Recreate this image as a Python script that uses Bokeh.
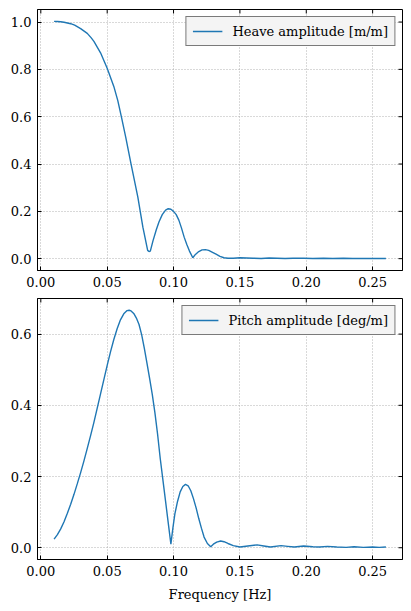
import math
from bokeh.plotting import figure
from bokeh.layouts import column
from bokeh.models import Range1d, FixedTicker, NumeralTickFormatter, Legend
from bokeh.embed import file_html
from bokeh.resources import INLINE

# ---- data ----
heave_freq = [0.010, 0.0125, 0.015, 0.0175, 0.020, 0.0225, 0.0255, 0.030, 0.035, 0.038,
              0.040, 0.045, 0.050, 0.055, 0.058, 0.061, 0.064, 0.068, 0.0731, 0.0769,
              0.0805, 0.0815, 0.0825, 0.0845, 0.087, 0.089, 0.0915, 0.094, 0.096, 0.098,
              0.100, 0.102, 0.104, 0.106, 0.108, 0.110, 0.112, 0.1145, 0.1165, 0.119,
              0.1215, 0.124, 0.1265, 0.129, 0.132, 0.135, 0.138, 0.141, 0.145, 0.150,
              0.155, 0.160, 0.166, 0.172, 0.178, 0.184, 0.190, 0.198, 0.205, 0.213,
              0.220, 0.228, 0.235, 0.243, 0.250, 0.260]
heave_amp = [1.003, 1.002, 1.001, 0.999, 0.996, 0.993, 0.987, 0.972, 0.952, 0.933,
             0.918, 0.870, 0.805, 0.728, 0.668, 0.592, 0.513, 0.400, 0.260, 0.133,
             0.035, 0.030, 0.032, 0.075, 0.122, 0.155, 0.186, 0.205, 0.211, 0.209,
             0.200, 0.186, 0.163, 0.129, 0.091, 0.060, 0.032, 0.004, 0.018, 0.030,
             0.037, 0.038, 0.035, 0.028, 0.019, 0.010, 0.004, 0.002, 0.002, 0.004,
             0.003, 0.002, 0.001, 0.003, 0.002, 0.001, 0.002, 0.002, 0.001, 0.002,
             0.001, 0.002, 0.001, 0.001, 0.001, 0.001]

pitch_freq = [0.010, 0.0125, 0.015, 0.0175, 0.020, 0.0225, 0.025, 0.0275, 0.030, 0.0325,
              0.035, 0.0375, 0.040, 0.0425, 0.045, 0.0475, 0.050, 0.0525, 0.055, 0.0575,
              0.060, 0.0625, 0.065, 0.0665, 0.068, 0.070, 0.072, 0.074, 0.076, 0.078,
              0.080, 0.082, 0.084, 0.086, 0.088, 0.090, 0.092, 0.094, 0.096, 0.098,
              0.0995, 0.101, 0.103, 0.105, 0.107, 0.109, 0.111, 0.113, 0.115, 0.117,
              0.119, 0.121, 0.123, 0.1255, 0.128, 0.130, 0.1325, 0.1355, 0.138, 0.141,
              0.145, 0.150, 0.156, 0.163, 0.168, 0.173, 0.181, 0.186, 0.191, 0.198,
              0.205, 0.210, 0.216, 0.223, 0.230, 0.236, 0.243, 0.250, 0.255, 0.260]
pitch_amp = [0.024, 0.037, 0.053, 0.073, 0.097, 0.122, 0.150, 0.180, 0.211, 0.244,
             0.279, 0.315, 0.352, 0.392, 0.432, 0.472, 0.512, 0.550, 0.585, 0.615,
             0.640, 0.657, 0.666, 0.667, 0.665, 0.658, 0.645, 0.627, 0.598, 0.560,
             0.518, 0.475, 0.430, 0.378, 0.318, 0.250, 0.190, 0.130, 0.070, 0.010,
             0.055, 0.095, 0.130, 0.157, 0.172, 0.178, 0.174, 0.160, 0.138, 0.112,
             0.082, 0.055, 0.030, 0.012, 0.003, 0.010, 0.016, 0.019, 0.017, 0.012,
             0.006, 0.002, 0.005, 0.008, 0.005, 0.002, 0.006, 0.004, 0.002, 0.005,
             0.003, 0.002, 0.004, 0.002, 0.001, 0.003, 0.001, 0.002, 0.001, 0.002]

x_ticks = [0.00, 0.05, 0.10, 0.15, 0.20, 0.25]
heave_ticks = [0.0, 0.2, 0.4, 0.6, 0.8, 1.0]
pitch_ticks = [0.0, 0.2, 0.4, 0.6]

heave_label = "Heave amplitude [m/m]"
pitch_label = "Pitch amplitude [deg/m]"
x_label = "Frequency [Hz]"

FONT = "DejaVu Serif"
FSIZE = "13px"
LINE_COLOR = "#1f77b4"
X_LO, X_HI = -0.0025, 0.2725


def style_axis(ax, ticks, fmt):
    ax.ticker = FixedTicker(ticks=ticks)
    ax.formatter = NumeralTickFormatter(format=fmt)
    ax.major_tick_in = 4
    ax.major_tick_out = 0
    ax.minor_tick_in = 0
    ax.minor_tick_out = 0
    ax.axis_line_color = "black"
    ax.major_tick_line_color = "black"
    ax.major_label_text_font = FONT
    ax.major_label_text_color = "black"
    ax.major_label_text_font_size = FSIZE


def make_fig(height, top, bottom, y_lo, y_hi, yticks, xs, ys, label):
    p = figure(width=411, height=height, output_backend="svg", toolbar_location=None,
               x_range=Range1d(X_LO, X_HI), y_range=Range1d(y_lo, y_hi),
               min_border_left=37, min_border_right=9,
               min_border_top=top, min_border_bottom=bottom)
    p.background_fill_color = "white"
    p.border_fill_color = "white"
    p.outline_line_color = "black"
    p.outline_line_width = 1
    xax = p.xaxis[0]
    yax = p.yaxis[0]
    style_axis(xax, x_ticks, "0.00")
    xax.major_label_standoff = 6
    style_axis(yax, yticks, "0.0")
    yax.major_label_standoff = 6
    # inward ticks on the top and right edges
    p.ray(x=x_ticks, y=[y_hi] * len(x_ticks), length=4, length_units="screen",
          angle=-math.pi / 2, line_color="black", line_width=1)
    p.ray(x=[X_HI] * len(yticks), y=yticks, length=4, length_units="screen",
          angle=math.pi, line_color="black", line_width=1)
    p.xgrid.ticker = FixedTicker(ticks=x_ticks)
    p.ygrid.ticker = FixedTicker(ticks=yticks)
    for g in (p.xgrid, p.ygrid):
        g.grid_line_color = "#a0a0a0"
        g.grid_line_dash = "1 2"
        g.grid_line_width = 0.8
    r = p.line(xs, ys, line_color=LINE_COLOR, line_width=1.4)
    leg = Legend(items=[(label, [r])], location="top_right")
    leg.label_text_font = FONT
    leg.label_text_font_size = FSIZE
    leg.label_text_color = "black"
    leg.border_line_color = "black"
    leg.border_line_width = 1
    leg.background_fill_color = "#f4f4f4"
    leg.background_fill_alpha = 1
    leg.margin = 7
    leg.padding = 6
    leg.spacing = 0
    leg.glyph_width = 30
    leg.glyph_height = 16
    leg.label_height = 16
    leg.label_standoff = 10
    p.add_layout(leg)
    return p, xax


p1, _ = make_fig(298, 9, 28, -0.05, 1.053, heave_ticks, heave_freq, heave_amp, heave_label)
p2, xax2 = make_fig(313, 0, 52, -0.033, 0.700, pitch_ticks, pitch_freq, pitch_amp, pitch_label)
xax2.axis_label = x_label
xax2.axis_label_text_font = FONT
xax2.axis_label_text_font_size = FSIZE
xax2.axis_label_text_font_style = "normal"
xax2.axis_label_text_color = "black"
xax2.axis_label_standoff = 8

p = column(p1, p2)
open("out.html", "w").write(file_html(p, INLINE))
